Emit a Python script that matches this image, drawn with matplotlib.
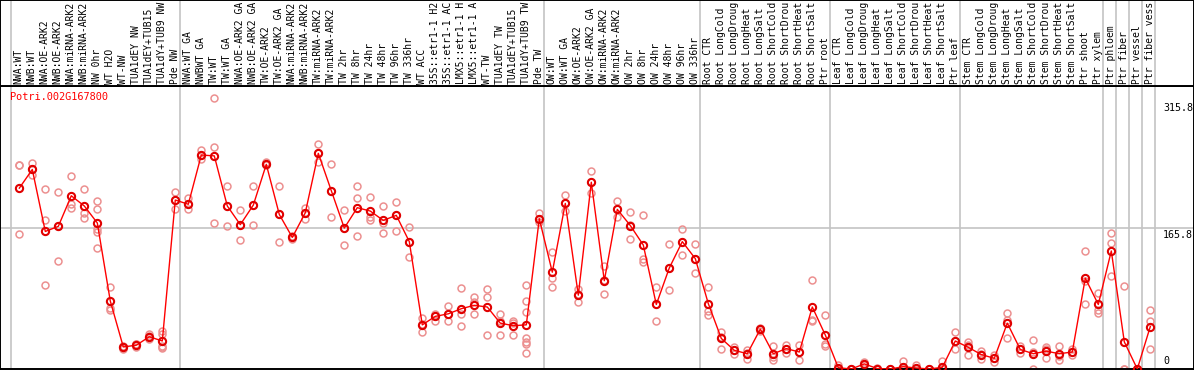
import numpy as np
import matplotlib
matplotlib.use('Agg')
import matplotlib.pyplot as plt

# 基本設定
plt.rcParams['font.family'] = 'DejaVu Sans Mono'
plt.rcParams['font.size'] = 7.2

gene_name = 'Potri.002G167800'

sample_labels = [
    'NWA:WT', 'NWB:WT', 'NWA:OE-ARK2', 'NWB:OE-ARK2', 'NWA:miRNA-ARK2', 'NWB:miRNA-ARK2',
    'NW 0hr', 'WT H2O', 'WT-NW', 'TUA1dEY NW', 'TUA1dEY+TUB15', 'TUA1dY+TUB9 NW', 'Pde NW',
    'NWA:WT GA', 'NWBWT GA', 'TW:WT', 'TW:WT GA', 'NWA:OE-ARK2 GA', 'NWB:OE-ARK2 GA',
    'TW:OE-ARK2', 'TW:OE-ARK2 GA', 'NWA:miRNA-ARK2', 'NWB:miRNA-ARK2', 'TW:miRNA-ARK2',
    'TW:miRNA-ARK2', 'TW 2hr', 'TW 8hr', 'TW 24hr', 'TW 48hr', 'TW 96hr', 'TW 336hr',
    'WT ACC', '35S::etr1-1 H2O', '35S::etr1-1 ACC', 'LMX5::etr1-1 H2O', 'LMX5::etr1-1 ACC',
    'WT-TW', 'TUA1dEY TW', 'TUA1dEY+TUB15', 'TUA1dY+TUB9 TW', 'Pde TW',
    'OW:WT', 'OW:WT GA', 'OW:OE-ARK2', 'OW:OE-ARK2 GA', 'OW:miRNA-ARK2', 'OW:miRNA-ARK2',
    'OW 2hr', 'OW 8hr', 'OW 24hr', 'OW 48hr', 'OW 96hr', 'OW 336hr',
    'Root CTR', 'Root LongCold', 'Root LongDrought', 'Root LongHeat', 'Root LongSalt',
    'Root ShortCold', 'Root ShortDrought', 'Root ShortHeat', 'Root ShortSalt', 'Ptr root',
    'Leaf CTR', 'Leaf LongCold', 'Leaf LongDrought', 'Leaf LongHeat', 'Leaf LongSalt',
    'Leaf ShortCold', 'Leaf ShortDrought', 'Leaf ShortHeat', 'Leaf ShortSalt', 'Ptr leaf',
    'Stem CTR', 'Stem LongCold', 'Stem LongDrought', 'Stem LongHeat', 'Stem LongSalt',
    'Stem ShortCold', 'Stem ShortDrought', 'Stem ShortHeat', 'Stem ShortSalt',
    'Ptr shoot', 'Ptr xylem', 'Ptr phloem', 'Ptr fiber', 'Ptr vessel', 'Ptr fiber vessel',
]
max_label_chars = 14  # 元図でも14文字で切れている

# 平均値
mean_values = [
    213, 235, 162, 168, 204, 192, 172, 80, 26, 28, 38, 33, 199,
    194, 252, 251, 192, 170, 193, 241, 182, 155, 184, 254, 210, 166, 190, 186, 175, 181, 150,
    52, 62, 65, 71, 75, 73, 54, 51, 52, 177,
    114, 195, 87, 220, 104, 188, 169, 146, 76, 119, 150, 130,
    77, 36, 22, 18, 47, 18, 24, 20, 73, 40,
    1.5, 0, 6, 0.5, 0, 2.7, 1.2, 0, 2, 33,
    25.5, 17, 12.6, 54, 23, 18, 21, 18, 20,
    107, 76, 139, 32, 0, 50,
]

# 各反復の値
replicate_values = [
    [240, 240, 159], [243, 235, 229], [212, 176, 99], [209, 168, 127], [227, 194, 190],
    [212, 184, 178], [198, 188, 165, 161, 143], [97, 72, 69], [27, 25, 24], [30, 29, 26],
    [41, 39, 35], [45, 41, 27, 26, 25], [208, 199, 189],
    [201, 194, 189], [258, 252, 247], [319, 261, 172], [216, 192, 168], [187, 170, 152],
    [216, 193, 170], [244, 242, 240], [216, 182, 150], [157, 155, 153], [190, 184, 177],
    [265, 254, 244], [242, 210, 179], [187, 166, 146], [216, 201, 157], [203, 179, 176],
    [192, 172, 160], [197, 181, 163], [167, 150, 132],
    [60, 53, 43], [65, 62, 57], [74, 65, 56], [95, 65, 51], [85, 79, 65], [94, 85, 40],
    [65, 57, 40], [57, 54, 40], [99, 80, 67, 37, 32, 30, 19], [184, 177, 173],
    [138, 107, 97], [205, 195, 186], [94, 88, 79], [233, 220, 207], [121, 105, 88],
    [198, 188, 179], [185, 170, 153], [181, 130, 126], [96, 76, 57], [147, 119, 93],
    [165, 150, 134], [147, 130, 113],
    [96, 68, 64], [44, 38, 24], [26, 22, 18], [22, 19, 12], [48, 47, 45], [27, 14, 11],
    [28, 24, 19], [28, 20, 11], [105, 58, 57], [64, 29, 27],
    [5, 0, 0], [0, 0, 0], [8, 6, 5], [1, 0, 0], [0, 0, 0], [10, 0, 0], [5, 0, 0],
    [0, 0, 0], [9, 0, 0], [44, 33, 24],
    [32, 28, 16], [21, 18, 12], [16, 13, 8], [66, 58, 36], [27, 23, 19], [34, 20, 0],
    [26, 24, 13], [27, 15, 11], [23, 20, 16],
    [139, 104, 76], [90, 70, 66], [160, 148, 109], [98, 0, 0], [0, 0, 0], [69, 57, 24],
]

# グループの区切り (この列の後に線)
group_ends = [-1, 12, 40, 52, 62, 72, 83, 84, 85, 86, 87]

ytick_values = [315.8, 165.8, 0]
ref_line = 165.8

W, H = 1194, 370
fig = plt.figure(figsize=(W / 100, H / 100), dpi=100)

x_lo, x_hi = -19.3 / 13, (W - 19.3) / 13
ax = fig.add_axes([0, 1 / H, 1, 283 / H])
ax_lab = fig.add_axes([0, 284 / H, 1, 86 / H])

grey = '#c4c4c4'
for a in (ax, ax_lab):
    a.set_xlim(x_lo, x_hi)
    a.set_xticks([])
    a.set_yticks([])
    for s in a.spines.values():
        s.set_linewidth(1.4)
        s.set_color('black')
    for g in group_ends:
        a.axvline(g + 0.38, color=grey, lw=1.2, zorder=0)

ax.set_ylim(0, 333.3)
ax_lab.set_ylim(0, 1)

x = np.arange(len(mean_values))

# 反復値
for i, reps in enumerate(replicate_values):
    ax.plot([i] * len(reps), reps, 'o', ms=5, mfc='none', mec='#ec9090', mew=1.1, zorder=2)

# 平均値の線
ax.plot(x, mean_values, '-', color='red', lw=1.0, zorder=3)
ax.plot(x, mean_values, 'o', ms=5.2, mfc='none', mec='#e00000', mew=1.5, zorder=4)

ax.axhline(ref_line, color=grey, lw=1.2, zorder=0)

# 遺伝子名 (左上)
ax.text(10 / W, 1 - 11 / 283, gene_name, color='red', transform=ax.transAxes,
        ha='left', va='center', fontsize=7.4)

# y 目盛ラベル
tick_x = 1163 / W
for v in ytick_values:
    if v == 0:
        ax.text(tick_x, 4, '0', transform=ax.get_yaxis_transform(), ha='left', va='bottom')
    else:
        ax.text(tick_x, v - 2, f'{v}', transform=ax.get_yaxis_transform(), ha='left', va='top')

# サンプル名 (縦書き)
for i, lab in enumerate(sample_labels):
    ax_lab.text(i - 0.05, 2 / 86, lab[:max_label_chars], rotation=90, ha='center',
                va='bottom', fontsize=7.0)

fig.savefig('out.png', dpi=100)
